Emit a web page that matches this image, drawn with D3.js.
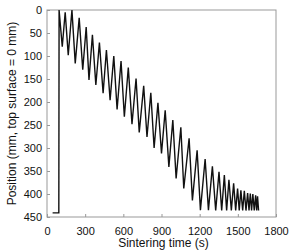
<!DOCTYPE html>
<html>
<head>
<style>
body { margin: 0; background: #fff; }
svg text { font-family: "Liberation Sans", Arial, sans-serif; fill: #111; }
.tick text { font-size: 11px; }
.tick line { stroke: #999; }
.title { font-size: 12px; }
</style>
</head>
<body>
<div id="chart"></div>
<script src="https://cdn.jsdelivr.net/npm/d3@7"></script>
<script>
// vertices of the zig-zag trace (time s, position mm)
const times = [44, 93, 95, 120, 143, 167, 196, 222, 253, 281, 308, 330, 357, 384, 412, 441, 467, 496, 525, 551,
  582, 608, 639, 668, 700, 725, 760, 786, 816, 842, 872, 900, 929, 958, 989, 1015, 1052, 1075, 1117, 1143,
  1180, 1206, 1243, 1269, 1300, 1326, 1352, 1373, 1394, 1412, 1430, 1449, 1467, 1483, 1498, 1511, 1524, 1538,
  1551, 1564, 1577, 1588, 1598, 1608, 1618, 1629, 1640, 1648, 1655, 1663];
const positions = [441, 441, 0, 80, 5, 98, 0, 116, 17, 130, 37, 152, 54, 163, 71, 181, 87, 196, 100, 216,
  111, 232, 125, 248, 149, 266, 165, 276, 180, 300, 202, 312, 218, 341, 239, 366, 255, 388, 279, 414,
  305, 435, 324, 435, 340, 436, 352, 436, 359, 436, 369, 436, 377, 436, 388, 436, 392, 436,
  393, 436, 398, 436, 399, 436, 400, 436, 403, 436, 405, 436];
const xTicks = [0, 300, 600, 900, 1200, 1500, 1800];
const yTicks = [0, 50, 100, 150, 200, 250, 300, 350, 400, 450];

const width = 290, height = 250;
const mLeft = 47, mRight = 276, mTop = 10, mBottom = 217;

const svg = d3.select('#chart').append('svg')
    .attr('width', width).attr('height', height);

const x = d3.scaleLinear().domain([0, 1800]).range([mLeft, mRight]);
const y = d3.scaleLinear().domain([0, 450]).range([mTop, mBottom]);

svg.append('g')
    .attr('transform', `translate(0,${mBottom})`)
    .call(d3.axisBottom(x).tickValues(xTicks).tickFormat(d3.format('d'))
        .tickSizeInner(-3).tickSizeOuter(0).tickPadding(10))
    .call(g => g.select('.domain').remove());

svg.append('g')
    .attr('transform', `translate(${mLeft},0)`)
    .call(d3.axisLeft(y).tickValues(yTicks).tickFormat(d3.format('d'))
        .tickSizeInner(-3).tickSizeOuter(0).tickPadding(5))
    .call(g => g.select('.domain').remove());

svg.append('rect')
    .attr('x', mLeft).attr('y', mTop)
    .attr('width', mRight - mLeft).attr('height', mBottom - mTop)
    .attr('fill', 'none').attr('stroke', '#999');

const line = d3.line()
    .x((d, i) => x(times[i]))
    .y(d => y(d));

svg.append('path')
    .datum(positions)
    .attr('d', line)
    .attr('fill', 'none')
    .attr('stroke', '#111')
    .attr('stroke-width', 1.4)
    .attr('stroke-linejoin', 'miter');

svg.append('text').attr('class', 'title')
    .attr('x', (mLeft + mRight) / 2 + 2).attr('y', 247)
    .attr('text-anchor', 'middle')
    .text('Sintering time (s)');

svg.append('text').attr('class', 'title')
    .attr('transform', `translate(16,${(mTop + mBottom) / 2}) rotate(-90)`)
    .attr('text-anchor', 'middle')
    .text('Position (mm, top surface = 0 mm)');
</script>
</body>
</html>
